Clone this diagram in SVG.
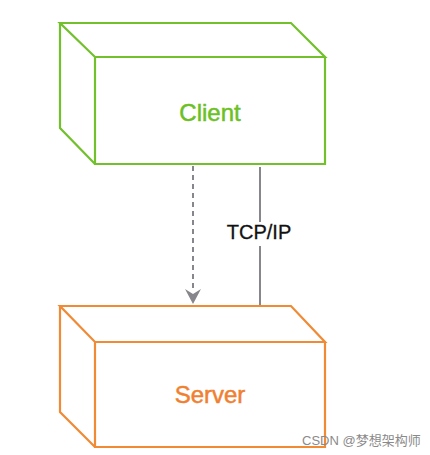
<svg xmlns="http://www.w3.org/2000/svg" width="430" height="455" viewBox="0 0 430 455">
<style>
.client{fill:none;stroke:#72c02c;stroke-width:2.2;stroke-linejoin:miter}
.server{fill:none;stroke:#f08a35;stroke-width:2.2;stroke-linejoin:miter}
.lbl{font-family:"Liberation Sans",Arial,sans-serif;font-size:24px;text-anchor:middle;stroke-width:0.5}
.conn{stroke:#86868c;stroke-width:2;fill:none}
</style>
<rect width="430" height="455" fill="#ffffff"/>
<g id="client">
<path class="client" d="M60,23 L291,23 L325,57 L95,57 Z M60,23 L60,128 L95,164 M95,57 L95,164 L325,164 L325,57"/>
<text class="lbl" x="210" y="121" fill="#6cc024" stroke="#6cc024">Client</text>
</g>
<g id="server">
<path class="server" d="M60,306 L291,306 L325,342 L95,342 Z M60,306 L60,412 L95,447 M95,342 L95,447 L325,447 L325,342"/>
<text class="lbl" x="210" y="403" fill="#f08030" stroke="#f08030">Server</text>
</g>
<g id="connectors">
<line class="conn" x1="193" y1="166" x2="193" y2="290" stroke-dasharray="5,4"/>
<path d="M185,289 L193,294 L201,289 L193,304 Z" fill="#86868c"/>
<line class="conn" x1="260" y1="167" x2="260" y2="222"/>
<line class="conn" x1="260" y1="246" x2="260" y2="305"/>
<text x="259" y="239" font-family="'Liberation Sans',Arial,sans-serif" font-size="20" text-anchor="middle" fill="#111111" stroke="#111111" stroke-width="0.3">TCP/IP</text>
</g>
<text x="302" y="445" font-family="'Liberation Sans','Noto Sans CJK SC',sans-serif" font-size="13" fill="#8a8a8a">CSDN @梦想架构师</text>
</svg>
